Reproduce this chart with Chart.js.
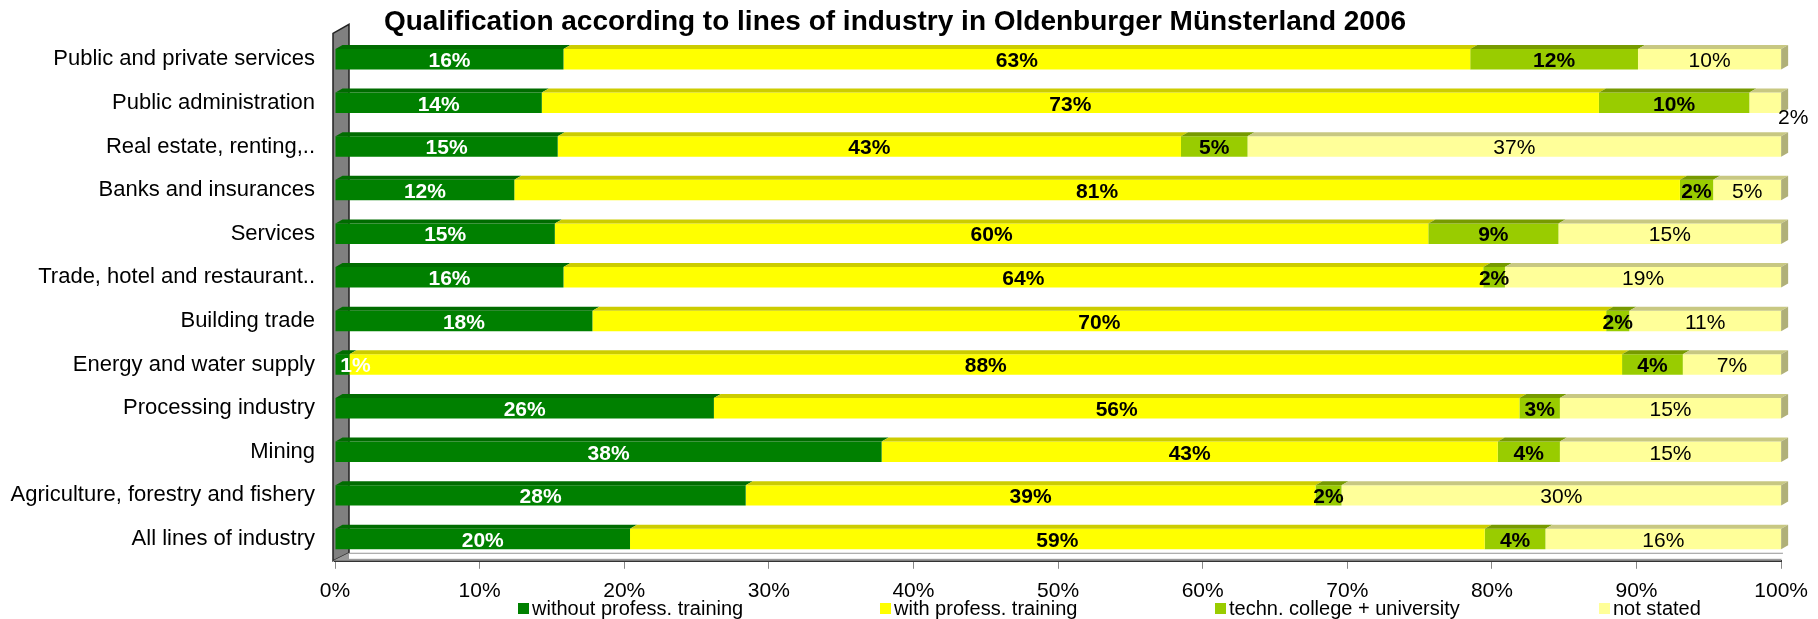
<!DOCTYPE html>
<html>
<head>
<meta charset="utf-8">
<script src="https://cdn.jsdelivr.net/npm/chart.js@4.4.0/dist/chart.umd.min.js"></script>
<style>
    html, body { margin: 0; padding: 0; background: #ffffff; }
</style>
</head>
<body>
<canvas id="myChart" width="1818" height="619"></canvas>
<script>
var industries = [
    'Public and private services',
    'Public administration',
    'Real estate, renting,..',
    'Banks and insurances',
    'Services',
    'Trade, hotel and restaurant..',
    'Building trade',
    'Energy and water supply',
    'Processing industry',
    'Mining',
    'Agriculture, forestry and fishery',
    'All lines of industry'
];

// shares in percent
var withoutTraining   = [15.8, 14.3, 15.4, 12.4, 15.2, 15.8, 17.8,  1.0, 26.2, 37.8, 28.4, 20.4];
var withTraining      = [62.7, 73.1, 43.1, 80.6, 60.4, 63.6, 70.1, 88.0, 55.7, 42.6, 39.4, 59.1];
var collegeUniversity = [11.6, 10.4,  4.6,  2.3,  9.0,  1.5,  1.6,  4.2,  2.8,  4.3,  1.8,  4.2];
var notStated         = [ 9.9,  2.2, 36.9,  4.7, 15.4, 19.1, 10.5,  6.8, 15.3, 15.3, 30.4, 16.3];

var seriesNames = ['without profess. training', 'with profess. training', 'techn. college + university', 'not stated'];

(function (window) {

    var FONT = "'Liberation Sans', Arial, sans-serif";
    var DEPTH_X = 7;
    var DEPTH_Y = 4;

    // fake 3D: wall on the left, floor, top faces and the right side of each bar
    var threeD = {
        id: 'threeD',
        beforeDatasetsDraw: function (chart) {
            var ctx = chart.ctx;
            var a = chart.chartArea;
            ctx.save();
            // left wall
            ctx.fillStyle = '#808080';
            ctx.strokeStyle = '#222222';
            ctx.lineWidth = 1.5;
            ctx.beginPath();
            ctx.moveTo(a.left - 2, a.top - 4);
            ctx.lineTo(a.left + 14, a.top - 13);
            ctx.lineTo(a.left + 14, a.bottom - 8);
            ctx.lineTo(a.left - 2, a.bottom);
            ctx.closePath();
            ctx.fill();
            ctx.stroke();
            // floor
            ctx.fillStyle = '#9a9a9a';
            ctx.beginPath();
            ctx.moveTo(a.left - 2, a.bottom);
            ctx.lineTo(a.left + 14, a.bottom - 8);
            ctx.lineTo(a.right + 2, a.bottom - 8);
            ctx.lineTo(a.right, a.bottom);
            ctx.closePath();
            ctx.fill();
            ctx.fillStyle = '#ffffff';
            ctx.fillRect(a.left + 14, a.bottom - 7, a.right - a.left - 12, 5);
            ctx.restore();
        },
        afterDatasetsDraw: function (chart) {
            var ctx = chart.ctx;
            var last = chart.data.datasets.length - 1;
            ctx.save();
            chart.data.datasets.forEach(function (ds, di) {
                var meta = chart.getDatasetMeta(di);
                meta.data.forEach(function (el) {
                    var p = el.getProps(['x', 'y', 'base', 'height'], true);
                    var top = p.y - p.height / 2;
                    var bottom = p.y + p.height / 2;
                    ctx.fillStyle = ds.topColor;
                    ctx.beginPath();
                    ctx.moveTo(p.base, top);
                    ctx.lineTo(p.x, top);
                    ctx.lineTo(p.x + DEPTH_X, top - DEPTH_Y);
                    ctx.lineTo(p.base + DEPTH_X, top - DEPTH_Y);
                    ctx.closePath();
                    ctx.fill();
                    if (di === last) {
                        ctx.fillStyle = ds.sideColor;
                        ctx.beginPath();
                        ctx.moveTo(p.x, top);
                        ctx.lineTo(p.x + DEPTH_X, top - DEPTH_Y);
                        ctx.lineTo(p.x + DEPTH_X, bottom - DEPTH_Y);
                        ctx.lineTo(p.x, bottom);
                        ctx.closePath();
                        ctx.fill();
                    }
                });
            });
            ctx.restore();
        }
    };

    // percentage labels inside the segments
    var segmentLabels = {
        id: 'segmentLabels',
        afterDatasetsDraw: function (chart) {
            var ctx = chart.ctx;
            var last = chart.data.datasets.length - 1;
            ctx.save();
            ctx.textAlign = 'center';
            ctx.textBaseline = 'middle';
            chart.data.datasets.forEach(function (ds, di) {
                var meta = chart.getDatasetMeta(di);
                ctx.font = ds.labelFont;
                ctx.fillStyle = ds.labelColor;
                meta.data.forEach(function (el, i) {
                    var v = ds.data[i];
                    var p = el.getProps(['x', 'y', 'base'], true);
                    var x = (p.x + p.base) / 2;
                    var y = p.y + 2;
                    if (di === last && v < 3) {
                        x = p.x + 12;
                        y = p.y + 15;
                    }
                    if (di === 0 && v < 3) {
                        x = p.base + 20;
                    }
                    ctx.fillText(Math.round(v) + '%', x, y);
                });
            });
            ctx.restore();
        }
    };

    // legend spread along the bottom like the original
    var bottomLegend = {
        id: 'bottomLegend',
        afterDraw: function (chart) {
            var ctx = chart.ctx;
            var starts = [518, 880, 1215, 1599];
            ctx.save();
            ctx.font = '20px ' + FONT;
            ctx.textAlign = 'left';
            ctx.textBaseline = 'middle';
            chart.data.datasets.forEach(function (ds, di) {
                var x = starts[di];
                ctx.fillStyle = ds.backgroundColor;
                ctx.fillRect(x, 603, 11, 11);
                ctx.fillStyle = '#000000';
                ctx.fillText(ds.label, x + 14, 609);
            });
            ctx.restore();
        }
    };

    function initializeChart() {
        var canvas = document.getElementById('myChart');
        if (!canvas) {
            return;
        }

        new Chart(canvas.getContext('2d'), {
            type: 'bar',
            data: {
                labels: industries,
                datasets: [
                    {
                        label: seriesNames[0],
                        data: withoutTraining,
                        backgroundColor: '#008000',
                        topColor: '#006c00',
                        sideColor: '#005a00',
                        labelColor: '#ffffff',
                        labelFont: 'bold 21px ' + FONT
                    },
                    {
                        label: seriesNames[1],
                        data: withTraining,
                        backgroundColor: '#ffff00',
                        topColor: '#cccc00',
                        sideColor: '#b3b300',
                        labelColor: '#000000',
                        labelFont: 'bold 21px ' + FONT
                    },
                    {
                        label: seriesNames[2],
                        data: collegeUniversity,
                        backgroundColor: '#99cc00',
                        topColor: '#779a00',
                        sideColor: '#668800',
                        labelColor: '#000000',
                        labelFont: 'bold 21px ' + FONT
                    },
                    {
                        label: seriesNames[3],
                        data: notStated,
                        backgroundColor: '#ffff99',
                        topColor: '#c8c882',
                        sideColor: '#b0b078',
                        labelColor: '#000000',
                        labelFont: '21px ' + FONT
                    }
                ]
            },
            options: {
                indexAxis: 'y',
                responsive: false,
                animation: false,
                devicePixelRatio: 1,
                layout: {
                    padding: { left: 2, right: 30, top: 0, bottom: 5 }
                },
                datasets: {
                    bar: {
                        categoryPercentage: 1,
                        barPercentage: 0.47,
                        borderWidth: 0
                    }
                },
                scales: {
                    x: {
                        stacked: true,
                        min: 0,
                        max: 100,
                        border: { display: true, color: '#333333', width: 2 },
                        grid: { drawOnChartArea: false, drawTicks: true, tickLength: 8, color: '#888888' },
                        ticks: {
                            stepSize: 10,
                            padding: 10,
                            color: '#000000',
                            font: { family: FONT, size: 21 },
                            callback: function (v) { return v + '%'; }
                        }
                    },
                    y: {
                        stacked: true,
                        border: { display: false },
                        grid: { display: false, drawTicks: false },
                        afterFit: function (scale) { scale.width = 333; },
                        ticks: {
                            padding: 20,
                            color: '#000000',
                            font: { family: FONT, size: 22 }
                        }
                    }
                },
                plugins: {
                    legend: { display: false },
                    tooltip: { enabled: false },
                    title: {
                        display: true,
                        text: 'Qualification according to lines of industry in Oldenburger Münsterland 2006',
                        color: '#000000',
                        font: { family: FONT, size: 28, weight: 'bold', lineHeight: 1.05 },
                        padding: { top: 8, bottom: 0 }
                    }
                }
            },
            plugins: [threeD, segmentLabels, bottomLegend]
        });
    }

    document.addEventListener('DOMContentLoaded', initializeChart);

})(window);
</script>
</body>
</html>
